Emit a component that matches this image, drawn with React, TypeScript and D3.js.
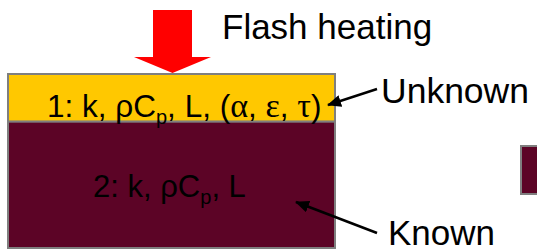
import React from 'react';
import * as d3 from 'd3';

// Two-layer flash heating sample

const layerIds = ['1', '2'];
const layerProps = [['k', 'ρC', 'L'], ['k', 'ρC', 'L']];
const layerExtra = [['α', 'ε', 'τ'], []];
const layerDepth = [0, 1, 3.65]; // layer boundaries, top to bottom
const layerFill = ['#FFC800', '#5C0426'];
const notes = ['Unknown', 'Known'];

const W = 537;
const H = 250;

const App = () => {
  const x = d3.scaleLinear().domain([0, 1]).range([8, 335]);
  const y = d3.scaleLinear().domain([0, layerDepth[2]]).range([74, 248]);

  const sans = 'Arial, "Liberation Sans", sans-serif';
  const serif = '"Liberation Serif", "Times New Roman", serif';

  const labelY = [117, 197];
  const labelX = [47, 93];
  const labelSize = [31.5, 31];

  return (
    <svg width={W} height={H} style={{ position: 'absolute', left: 0, top: 0 }}>
      <defs>
        <marker id="ah" viewBox="0 0 14 12" refX="13" refY="6" markerWidth="14" markerHeight="12"
          markerUnits="userSpaceOnUse" orient="auto">
          <path d="M0,0L14,6L0,12Z" fill="#000" />
        </marker>
      </defs>

      {/* flash heating arrow */}
      <path d="M153,10H192V57H211L172.5,73L134,57H153Z" fill="#FF0000" />
      <text x={222} y={39} fontFamily={sans} fontSize={35}>Flash heating</text>

      {/* layers */}
      {layerIds.map((id, i) => (
        <rect key={id} x={x(0)} y={y(layerDepth[i])} width={x(1) - x(0)}
          height={y(layerDepth[i + 1]) - y(layerDepth[i])}
          fill={layerFill[i]} stroke="#7F7F7F" strokeWidth={2} />
      ))}

      {layerIds.map((id, i) => (
        <text key={id} x={labelX[i]} y={labelY[i]} fontFamily={sans} fontSize={labelSize[i]} fill="#000">
          {id}: {layerProps[i][0]}, <tspan>{layerProps[i][1]}</tspan>
          <tspan fontSize={20} dy={7}>p</tspan>
          <tspan dy={-7}>, {layerProps[i][2]}</tspan>
          {layerExtra[i].length > 0 && (
            <>
              <tspan>, (</tspan>
              {layerExtra[i].map((g, j) => (
                <React.Fragment key={g}>
                  <tspan fontFamily={serif} fontSize={34}>{g}</tspan>
                  <tspan>{j < layerExtra[i].length - 1 ? ', ' : ')'}</tspan>
                </React.Fragment>
              ))}
            </>
          )}
        </text>
      ))}

      {/* annotations */}
      <line x1={377} y1={89} x2={328} y2={105} stroke="#000" strokeWidth={2.5} markerEnd="url(#ah)" />
      <text x={381} y={103} fontFamily={sans} fontSize={35.5}>{notes[0]}</text>

      <line x1={377} y1={233} x2={296} y2={202} stroke="#000" strokeWidth={2.5} markerEnd="url(#ah)" />
      <text x={388} y={245} fontFamily={sans} fontSize={35}>{notes[1]}</text>

      {/* partial legend swatch at right edge */}
      <rect x={521} y={146} width={30} height={48} fill={layerFill[1]} stroke="#7F7F7F" strokeWidth={2} />
    </svg>
  );
};

export default App;
